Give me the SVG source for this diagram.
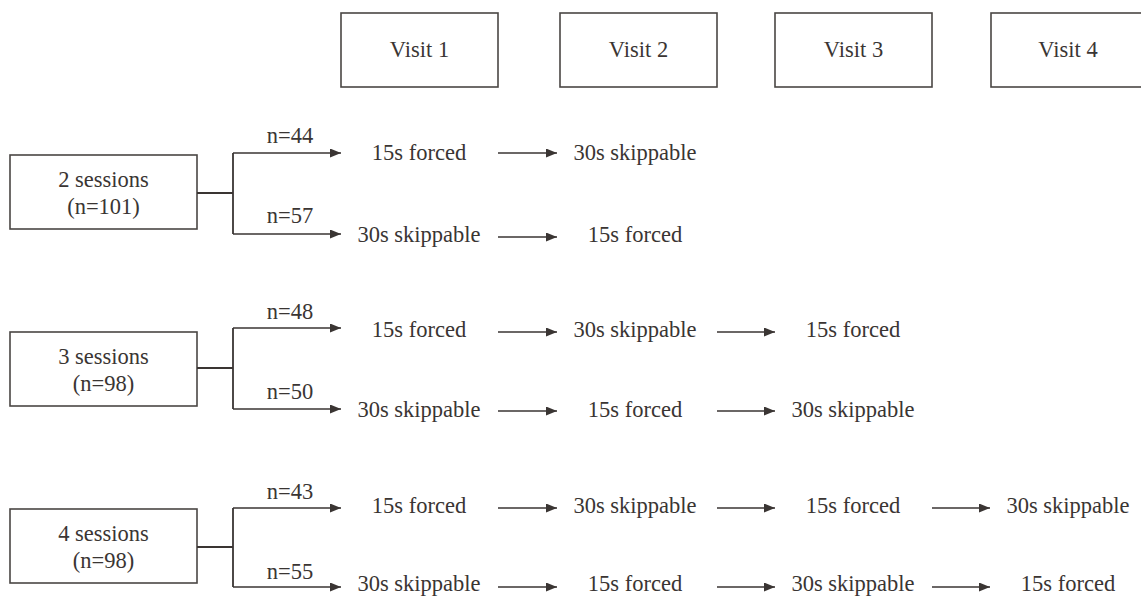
<svg xmlns="http://www.w3.org/2000/svg" width="1141" height="596" viewBox="0 0 1141 596">
<defs>
<marker id="ah" markerWidth="11" markerHeight="9" refX="11" refY="4.5" orient="auto" markerUnits="userSpaceOnUse">
<path d="M0,0 L11,4.5 L0,9 Z" fill="#3a3533"/>
</marker>
<style>
.box{fill:#fff;stroke:#4a4644;stroke-width:1.6}
.t{font-family:'Liberation Serif','Times New Roman',Times,serif;font-size:22.5px;fill:#3a3533;text-anchor:middle}
.ln{fill:none;stroke:#3a3533;stroke-width:1.8}
.ar{fill:none;stroke:#3a3533;stroke-width:1.6;marker-end:url(#ah)}
</style>
</defs>
<rect width="1141" height="596" fill="#fff"/>
<g id="visit1"><rect class="box" x="341" y="13" width="157" height="74"/><text class="t" x="419.5" y="57">Visit 1</text></g>
<g id="visit2"><rect class="box" x="560" y="13" width="157" height="74"/><text class="t" x="638.5" y="57">Visit 2</text></g>
<g id="visit3"><rect class="box" x="775" y="13" width="157" height="74"/><text class="t" x="853.5" y="57">Visit 3</text></g>
<g id="visit4"><rect class="box" x="991" y="13" width="160" height="74"/><text class="t" x="1068" y="57">Visit 4</text></g>

<g id="s2"><rect class="box" x="10" y="155" width="187" height="74"/><text class="t" x="103.5" y="187">2 sessions</text><text class="t" x="103.5" y="214">(n=101)</text></g>
<g id="s3"><rect class="box" x="10" y="332" width="187" height="74"/><text class="t" x="103.5" y="364">3 sessions</text><text class="t" x="103.5" y="391">(n=98)</text></g>
<g id="s4"><rect class="box" x="10" y="509" width="187" height="74"/><text class="t" x="103.5" y="541">4 sessions</text><text class="t" x="103.5" y="568">(n=98)</text></g>

<g id="labels">
<text class="t" x="290" y="143">n=44</text>
<text class="t" x="290" y="223">n=57</text>
<text class="t" x="290" y="319">n=48</text>
<text class="t" x="290" y="399">n=50</text>
<text class="t" x="290" y="499">n=43</text>
<text class="t" x="290" y="579">n=55</text>
</g>

<g id="r1"><text class="t" x="419" y="160">15s forced</text><text class="t" x="635" y="160">30s skippable</text></g>
<g id="r2"><text class="t" x="419" y="242">30s skippable</text><text class="t" x="635" y="242">15s forced</text></g>
<g id="r3"><text class="t" x="419" y="337">15s forced</text><text class="t" x="635" y="337">30s skippable</text><text class="t" x="853" y="337">15s forced</text></g>
<g id="r4"><text class="t" x="419" y="417">30s skippable</text><text class="t" x="635" y="417">15s forced</text><text class="t" x="853" y="417">30s skippable</text></g>
<g id="r5"><text class="t" x="419" y="513">15s forced</text><text class="t" x="635" y="513">30s skippable</text><text class="t" x="853" y="513">15s forced</text><text class="t" x="1068" y="513">30s skippable</text></g>
<g id="r6"><text class="t" x="419" y="591">30s skippable</text><text class="t" x="635" y="591">15s forced</text><text class="t" x="853" y="591">30s skippable</text><text class="t" x="1068" y="591">15s forced</text></g>

<g id="connectors">
<path class="ln" d="M197,193 H233 M233,153 V234"/>
<path class="ar" d="M233,153 H341"/>
<path class="ar" d="M233,234 H341"/>
<path class="ln" d="M197,368 H233 M233,328 V409"/>
<path class="ar" d="M233,328 H341"/>
<path class="ar" d="M233,409 H341"/>
<path class="ln" d="M197,547 H233 M233,508 V587"/>
<path class="ar" d="M233,508 H341"/>
<path class="ar" d="M233,587 H341"/>

<path class="ar" d="M498,153 H557"/>
<path class="ar" d="M498,237 H557"/>
<path class="ar" d="M498,332 H557"/>
<path class="ar" d="M498,411 H557"/>
<path class="ar" d="M717,332 H775"/>
<path class="ar" d="M717,411 H775"/>
<path class="ar" d="M498,508 H557"/>
<path class="ar" d="M498,587 H557"/>
<path class="ar" d="M717,508 H775"/>
<path class="ar" d="M717,587 H775"/>
<path class="ar" d="M932,508 H990"/>
<path class="ar" d="M932,587 H990"/>
</g>
</svg>
